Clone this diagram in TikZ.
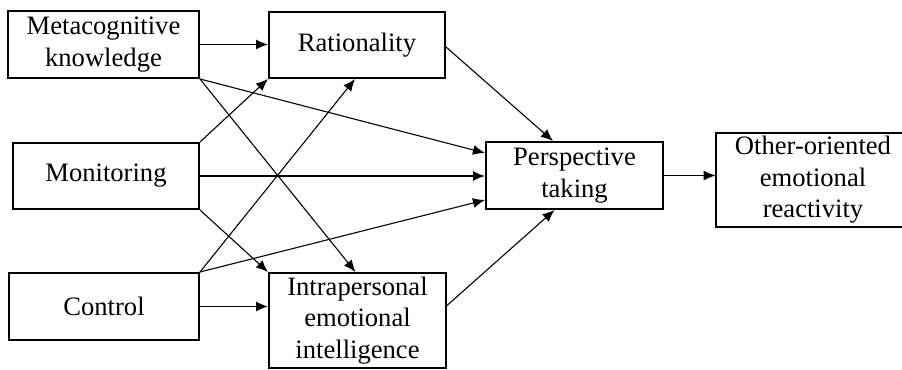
\documentclass[tikz,border=0pt]{standalone}
\usepackage{fontspec}
\setmainfont{Liberation Serif}
\usetikzlibrary{arrows.meta}
\begin{document}
\begin{tikzpicture}[x=0.5pt,y=-0.5pt,
  txt/.style={rectangle,align=center,inner sep=0pt,
    font=\fontsize{13.3pt}{15.8pt}\selectfont},
  box/.style={txt,draw,line width=1pt},
  arr/.style={-{Latex[length=6pt,width=5pt]},line width=0.55pt}]
\useasboundingbox (0,0) rectangle (902,370);
\clip (0,0) rectangle (902,370);
\node[box,minimum width=95.5pt,minimum height=33.5pt] (meta) at (103.5,44.5) {Metacognitive\\knowledge};
\node[box,minimum width=88pt,minimum height=33pt] (rat) at (357,45) {Rationality};
\node[box,minimum width=93pt,minimum height=33pt] (mon) at (106,176) {Monitoring};
\node[box,minimum width=95pt,minimum height=33.5pt] (ctrl) at (104,306.5) {Control};
\node[box,minimum width=88.5pt,minimum height=47.5pt] (intra) at (357.5,320.5) {Intrapersonal\\emotional\\intelligence};
\node[box,minimum width=88.5pt,minimum height=33.5pt] (persp) at (574.5,175.5) {Perspective\\taking};
\node[txt,minimum width=97pt,minimum height=47pt] (other) at (813,180) {Other-oriented\\emotional\\reactivity};
\draw[line width=1pt] (other.north west) rectangle ([xshift=20pt]other.south east);
\draw[arr] (meta.east) -- (meta.east -| rat.west);
\draw[arr] (meta.south east) -- ([yshift=11.25pt]persp.west);
\draw[arr] (meta.south east) -- ([xshift=-1pt]intra.north);
\draw[arr] (mon.north east) -- (rat.south west);
\draw[arr] (mon.east) -- (mon.east -| persp.west);
\draw[arr] (mon.south east) -- (intra.north west);
\draw[arr] (ctrl.north east) -- ([xshift=-1pt]rat.south);
\draw[arr] (ctrl.north east) -- ([yshift=-12.25pt]persp.west);
\draw[arr] (ctrl.east) -- (ctrl.east -| intra.west);
\draw[arr] ([yshift=-1pt]rat.east) -- ([xshift=-10.75pt]persp.north);
\draw[arr] ([yshift=7.5pt]intra.east) -- ([xshift=-10pt]persp.south);
\draw[arr] (persp.east) -- (persp.east -| other.west);
\end{tikzpicture}
\end{document}
